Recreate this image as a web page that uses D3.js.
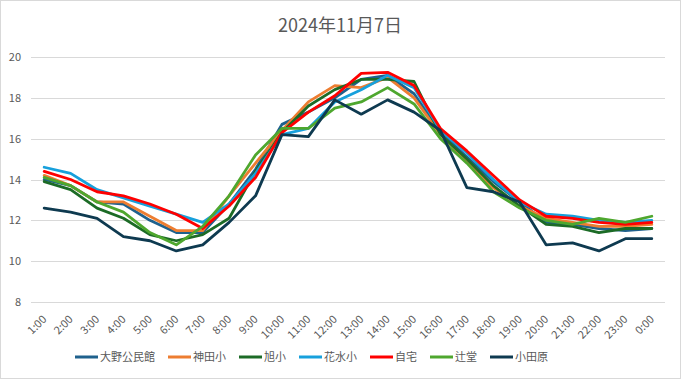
<!DOCTYPE html>
<html><head><meta charset="utf-8">
<script src="https://cdn.jsdelivr.net/npm/d3@7"></script>
<style>body{margin:0;background:#fff}svg{display:block}text{font-family:"Noto Sans CJK JP","Noto Sans",sans-serif;fill:#595959}</style>
</head><body><svg id="c" width="681" height="379"></svg>
<script>
const title = "2024年11月7日";
const hours = ["1:00","2:00","3:00","4:00","5:00","6:00","7:00","8:00","9:00","10:00","11:00","12:00","13:00","14:00","15:00","16:00","17:00","18:00","19:00","20:00","21:00","22:00","23:00","0:00"];
const yTicks = [8,10,12,14,16,18,20];
const seriesNames = ["大野公民館","神田小","旭小","花水小","自宅","辻堂","小田原"];
const seriesColors = ["#1f618d","#ed7d31","#1c6b26","#17a0dc","#ff0000","#4ea72e","#0e3a50"];
const ohno   = [14.0,13.7,12.9,12.8,12.0,11.4,11.4,12.8,14.5,16.7,17.3,18.0,18.9,19.1,18.2,16.3,15.1,13.9,12.9,11.9,11.8,11.6,11.5,11.6];
const kanda  = [14.2,13.7,12.9,12.9,12.2,11.5,11.5,13.2,14.8,16.4,17.8,18.6,18.5,19.0,18.0,16.2,14.9,13.6,12.7,12.1,11.9,11.7,11.7,11.8];
const asahi  = [13.9,13.5,12.6,12.1,11.3,11.0,11.3,12.1,14.4,16.3,17.6,18.4,18.9,18.9,18.8,16.2,15.0,13.7,12.7,11.8,11.7,11.4,11.6,11.6];
const hanami = [14.6,14.3,13.5,13.1,12.7,12.3,11.9,12.8,14.3,16.2,16.5,17.8,18.4,19.1,18.5,16.4,15.3,14.0,12.9,12.3,12.2,12.0,11.9,12.0];
const jitaku = [14.4,14.0,13.4,13.2,12.8,12.3,11.6,12.7,14.1,16.3,17.3,18.1,19.2,19.25,18.6,16.5,15.4,14.2,13.0,12.2,12.1,11.9,11.8,11.9];
const tsuji  = [14.1,13.7,12.9,12.4,11.4,10.8,11.7,13.2,15.2,16.5,16.5,17.5,17.8,18.5,17.7,16.0,14.8,13.4,12.6,12.0,11.8,12.1,11.9,12.2];
const odawara= [12.6,12.4,12.1,11.2,11.0,10.5,10.8,11.9,13.2,16.2,16.1,17.9,17.2,17.9,17.3,16.4,13.6,13.4,12.9,10.8,10.9,10.5,11.1,11.1];
const seriesValues = [ohno,kanda,asahi,hanami,jitaku,tsuji,odawara];

const svg = d3.select("#c");
svg.append("rect").attr("x",0.5).attr("y",0.5).attr("width",680).attr("height",378)
  .attr("fill","#fff").attr("stroke","#d9d9d9");

const x = d3.scalePoint().domain(hours).range([31,665]).padding(0.5);
const y = d3.scaleLinear().domain([8,20]).range([302,57]);

svg.append("text").attr("x",340).attr("y",32).attr("text-anchor","middle")
  .style("font-size","18px").text(title);

// grid
svg.append("g").selectAll("line").data(yTicks).join("line")
  .attr("x1",31).attr("x2",665).attr("y1",d=>Math.round(y(d))+0.5).attr("y2",d=>Math.round(y(d))+0.5)
  .attr("stroke","#d9d9d9").attr("stroke-width",1);

// y axis labels
const yAxis = d3.axisLeft(y).tickValues(yTicks).tickSize(0).tickPadding(0);
const gy = svg.append("g").attr("transform","translate(21,0)").call(yAxis);
gy.select(".domain").remove();
gy.selectAll("text").style("font-size","11px").attr("fill","#595959").style("font-family",'"Noto Sans CJK JP",sans-serif');

// x axis labels
const xAxis = d3.axisBottom(x).tickSize(0).tickPadding(0);
const gx = svg.append("g").attr("transform","translate(0,0)").call(xAxis);
gx.select(".domain").remove();
gx.selectAll(".tick").attr("transform",d=>`translate(${x(d)+3},320)`);
gx.selectAll("text").attr("y",0).attr("dy",0).attr("text-anchor","end")
  .attr("transform","rotate(-45)").style("font-size","11px").attr("fill","#595959")
  .style("font-family",'"Noto Sans CJK JP",sans-serif');

// lines
const line = d3.line().x((d,i)=>x(hours[i])).y(d=>y(d));
svg.append("g").selectAll("path").data(seriesValues).join("path")
  .attr("d",line).attr("fill","none")
  .attr("stroke",(d,i)=>seriesColors[i]).attr("stroke-width",2.8)
  .attr("stroke-linejoin","round").attr("stroke-linecap","round");

// legend
const lg = svg.append("g");
let lx = 75;
seriesNames.forEach((n,i)=>{
  lg.append("line").attr("x1",lx).attr("x2",lx+23).attr("y1",357).attr("y2",357)
    .attr("stroke",seriesColors[i]).attr("stroke-width",3);
  const t = lg.append("text").attr("x",lx+25).attr("y",361).style("font-size","11px").text(n);
  lx = lx + 25 + t.node().getComputedTextLength() + 13;
});
</script></body></html>
